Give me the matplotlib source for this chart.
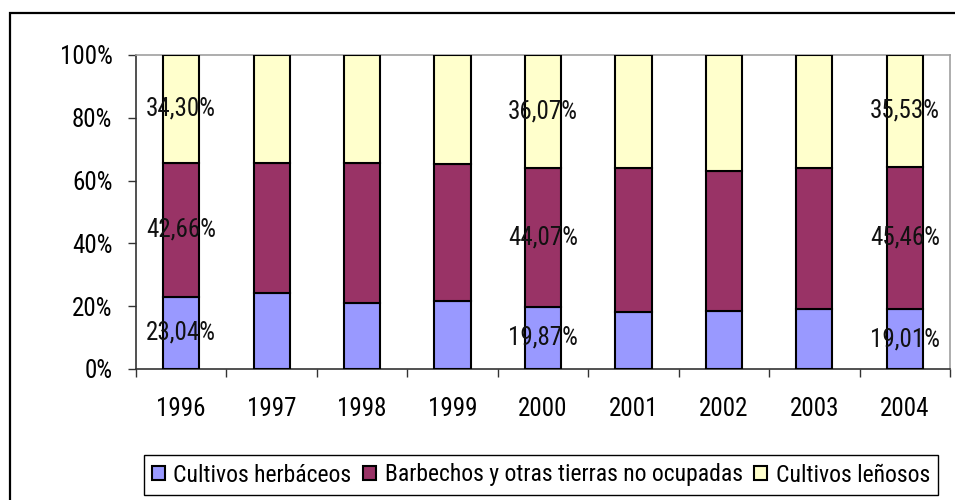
import numpy as np
import matplotlib
matplotlib.use("Agg")
import matplotlib.pyplot as plt
from matplotlib.patches import Rectangle

years = ['1996', '1997', '1998', '1999', '2000', '2001', '2002', '2003', '2004']
herbaceos = [23.04, 24.1, 21.0, 21.7, 19.87, 18.0, 18.6, 19.2, 19.01]
barbechos = [42.66, 41.6, 44.7, 43.6, 44.07, 45.9, 44.6, 44.7, 45.46]
lenosos = [34.30, 34.3, 34.3, 34.7, 36.07, 36.1, 36.8, 36.1, 35.53]
series_names = ['Cultivos herbáceos', 'Barbechos y otras tierras no ocupadas', 'Cultivos leñosos']
colors = ['#9999FF', '#993366', '#FFFFCC']
label_years = ['1996', '2000', '2004']

plt.rcParams['font.family'] = ['Roboto Condensed', 'Liberation Sans', 'DejaVu Sans']
plt.rcParams['font.size'] = 18

fig = plt.figure(figsize=(9.55, 5), dpi=100)
ax = fig.add_axes([136/955, 1-369/500, (950-136)/955, (369-55)/500])

data = np.array([herbaceos, barbechos, lenosos])
pct = data / data.sum(axis=0) * 100
x = np.arange(len(years))
bottom = np.zeros(len(years))
for i in range(3):
    ax.bar(x, pct[i], 0.4, bottom=bottom, color=colors[i], edgecolor='black',
           linewidth=1.5, label=series_names[i], zorder=3)
    for j, yr in enumerate(years):
        if yr in label_years:
            txt = f"{data[i][j]:.2f}".replace('.', ',') + '%'
            ax.text(x[j], bottom[j] + pct[i][j] / 2, txt, ha='center', va='center',
                    fontsize=18, color='#111111', zorder=4)
    bottom += pct[i]

ax.set_xlim(-0.5, len(years) - 0.5)
ax.set_ylim(0, 100)
ax.set_yticks([0, 20, 40, 60, 80, 100])
ax.set_yticklabels(['0%', '20%', '40%', '60%', '80%', '100%'])
ax.set_xticks(x)
ax.set_xticklabels(years)
ax.set_xticks(np.arange(-0.5, len(years)), minor=True)
ax.tick_params(axis='x', which='major', length=0, pad=20)
ax.tick_params(axis='x', which='minor', length=6, width=1, direction='out', color='#333333')
ax.tick_params(axis='y', length=6, width=1, pad=11, color='#333333')

for s in ['top', 'right']:
    ax.spines[s].set_color('#A0A0A0')
    ax.spines[s].set_linewidth(1.2)
for s in ['left', 'bottom']:
    ax.spines[s].set_color('#333333')
    ax.spines[s].set_linewidth(1.2)

leg = fig.legend(loc='center', bbox_to_anchor=(541/955, 1-475/500), ncol=3,
                 frameon=True, fancybox=False, edgecolor='black', framealpha=1,
                 handlelength=0.55, handleheight=0.55, handletextpad=0.35,
                 columnspacing=0.5, borderpad=0.35, fontsize=17)
leg.get_frame().set_linewidth(1.0)

fig.patches.append(Rectangle((10/955, -0.05), 1.1, 1 - 13/500 + 0.05,
                             transform=fig.transFigure, fill=False,
                             edgecolor='black', linewidth=1.6))

fig.savefig('out.png', dpi=100)
